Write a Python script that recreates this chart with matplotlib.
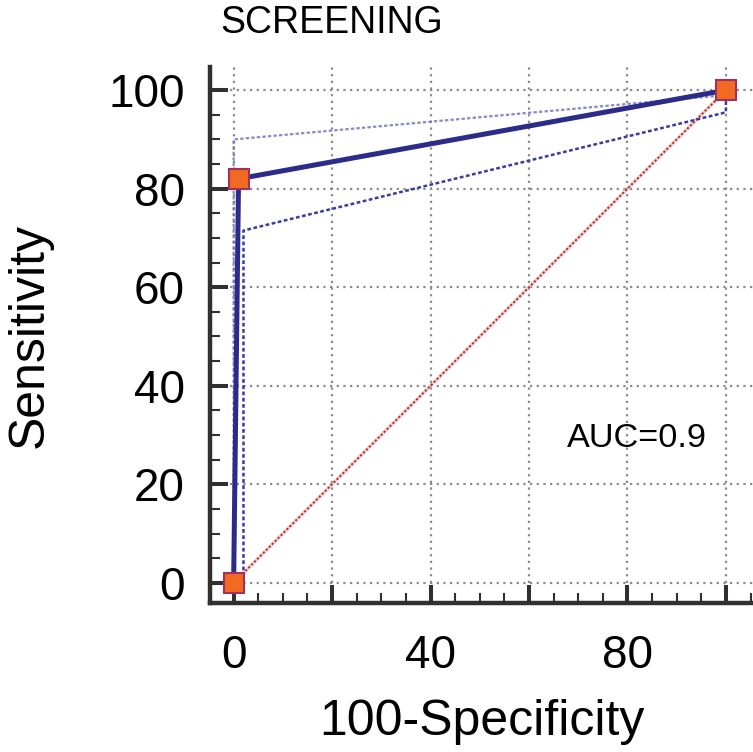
import matplotlib
matplotlib.use("Agg")
import matplotlib.pyplot as plt
from matplotlib.ticker import MultipleLocator

plt.rcParams['font.family'] = ['Liberation Sans', 'DejaVu Sans']

# ROC points (100-specificity, sensitivity)
roc_x = [0, 1, 100]
roc_y = [0, 82, 100]

# confidence bounds
upper_x = [0, 0, 100]
upper_y = [0, 90, 99]
lower_x = [2, 2, 100, 100]
lower_y = [0, 71.5, 95.5, 100]

# reference diagonal
diag_x = [0, 100]
diag_y = [0, 100]

xticks = [0, 20, 40, 60, 80, 100]
xticklabels = ['0', '', '40', '', '80', '']
yticks = [0, 20, 40, 60, 80, 100]
yticklabels = ['0', '20', '40', '60', '80', '100']

auc_text = 'AUC=0.9'

fig = plt.figure(figsize=(7.53, 7.52), dpi=100)
ax = fig.add_axes([210/753, (752-603)/752, 1 - 210/753, (603-67)/752])

ax.set_xlim(-4.8, 105.5)
ax.set_ylim(-4.1, 104.7)

ax.grid(True, color='#8a8a8a', linestyle=(0, (1, 2)), linewidth=1.6)
ax.set_axisbelow(True)

# diagonal with a faint pink halo
ax.plot(diag_x, diag_y, color='#f0b0b0', linewidth=2.5, alpha=0.6, zorder=2)
ax.plot(diag_x, diag_y, color='#b03838', linestyle=(0, (1, 1)), linewidth=1.5, zorder=2)
ax.plot(upper_x, upper_y, color='#6a6ac0', linestyle=(0, (1.5, 1)), linewidth=1.6, alpha=0.8, zorder=3)
ax.plot(lower_x, lower_y, color='#3a3aa0', linestyle=(0, (1.5, 1)), linewidth=1.8, zorder=3)
ax.plot(roc_x, roc_y, color='#2b2b8a', linewidth=3.6, zorder=4)
ax.plot(roc_x, roc_y, linestyle='none', marker='s', markersize=14,
        markerfacecolor='#f26a21', markeredgecolor='#a03060', markeredgewidth=1.5,
        zorder=5, clip_on=False)

ax.set_xticks(xticks)
ax.set_xticklabels(xticklabels)
ax.set_yticks(yticks)
ax.set_yticklabels(yticklabels)
ax.xaxis.set_minor_locator(MultipleLocator(5))
ax.yaxis.set_minor_locator(MultipleLocator(5))

ax.tick_params(which='major', direction='in', length=13, width=2.9, color='#303030', labelsize=33)
ax.tick_params(which='minor', direction='in', length=7, width=1.5, color='#303030')
ax.tick_params(axis='x', which='major', pad=22)
ax.tick_params(axis='y', which='major', pad=18)

for side in ['top', 'right']:
    ax.spines[side].set_visible(False)
for side in ['left', 'bottom']:
    ax.spines[side].set_linewidth(3.2)
    ax.spines[side].set_color('#303030')

ax.set_xlabel('100-Specificity', fontsize=36)
ax.xaxis.set_label_coords(0.5, -0.18)
ax.set_ylabel('Sensitivity', fontsize=36)
ax.yaxis.set_label_coords(-0.29, 0.5)

ax.text(82, 27.6, auc_text, fontsize=24.7, ha='center', va='baseline')

fig.text(332/753, (752-33)/752, 'SCREENING', fontsize=27, ha='center', va='baseline')

fig.savefig('out.png', dpi=100)
